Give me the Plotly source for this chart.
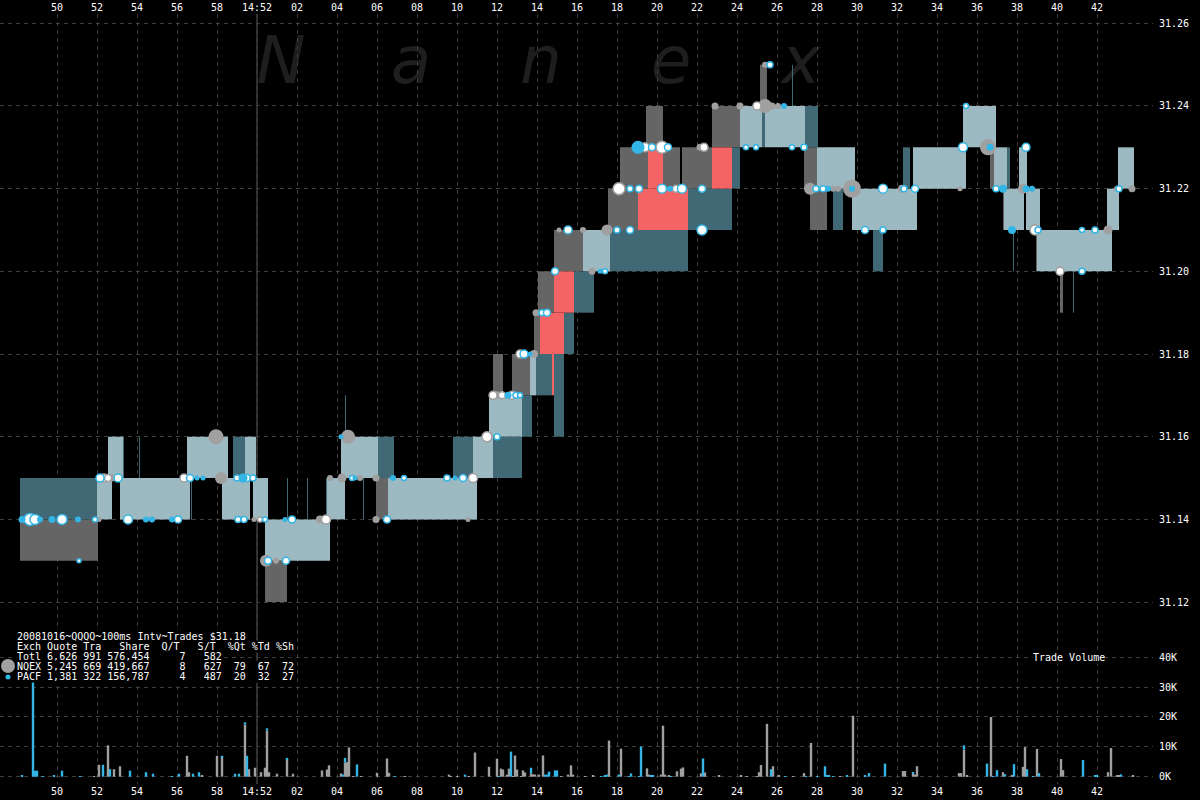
import plotly.graph_objects as go

# ---------------- axes / ticks ----------------
# time in seconds after 14:51:00
time_ticks = [50, 52, 54, 56, 58, 60, 62, 64, 66, 68, 70, 72, 74, 76, 78, 80,
              82, 84, 86, 88, 90, 92, 94, 96, 98, 100, 102]
time_labels = ['50', '52', '54', '56', '58', '14:52', '02', '04', '06', '08', '10',
               '12', '14', '16', '18', '20', '22', '24', '26', '28', '30', '32',
               '34', '36', '38', '40', '42']
price_ticks = [31.12, 31.14, 31.16, 31.18, 31.20, 31.22, 31.24, 31.26]
price_labels = ['31.12', '31.14', '31.16', '31.18', '31.20', '31.22', '31.24', '31.26']
vol_ticks = [0, 10, 20, 30, 40]
vol_labels = ['0K', '10K', '20K', '30K', '40K']

# ---------------- quote (bid/ask) segments ----------------
# kind: S = solid spread, B = blue striped, G = grey striped, R = crossed (red)
seg_t0 = [48.15, 48.15, 52.0, 52.55, 53.15, 53.3, 54.1, 56.7, 56.5, 58.25, 58.8, 59.4, 59.8,
          60.4, 60.4, 61.5, 62.5, 63.45, 63.5, 64.2, 64.4, 66.05, 65.3, 65.95, 66.55, 69.8,
          70.8, 71.8, 71.6, 73.25, 71.8, 72.75, 73.65, 73.95, 74.75, 74.85, 73.85, 74.15,
          75.35, 74.05, 74.85, 75.85, 74.85, 76.3, 77.65, 77.55, 79.05, 81.55, 78.15, 79.55,
          80.3, 81.25, 82.75, 83.75, 79.45, 82.75, 84.15, 85.25, 85.4, 87.4, 85.15, 86.75,
          87.35, 88.0, 87.65, 88.8, 89.75, 90.8, 92.3, 92.8, 95.3, 96.65, 96.85, 97.5, 98.1,
          97.3, 97.35, 98.45, 97.8, 98.95, 99.0, 100.15, 100.8, 102.5, 103.05]
seg_t1 = [52.0, 52.05, 52.75, 53.3, 56.65, 53.35, 54.15, 56.75, 58.55, 59.65, 59.4, 59.95, 60.55,
          63.65, 61.5, 61.55, 62.55, 63.5, 64.4, 66.05, 64.45, 66.85, 65.35, 66.55, 71.0, 70.8,
          71.8, 73.25, 73.25, 73.75, 72.3, 73.65, 73.95, 74.75, 74.85, 75.35, 74.15, 75.35,
          75.85, 74.85, 75.85, 76.85, 76.3, 77.65, 81.55, 79.05, 81.55, 83.75, 79.55, 80.3,
          81.15, 82.75, 83.75, 84.15, 80.3, 84.15, 85.25, 85.4, 87.4, 88.05, 85.5, 86.8,
          88.0, 89.9, 88.5, 89.3, 93.0, 91.3, 92.65, 95.45, 96.95, 96.85, 97.5, 97.65, 98.5,
          97.35, 98.35, 99.15, 97.85, 99.0, 102.75, 100.3, 100.85, 103.1, 103.85]
seg_lo = [31.14, 31.13, 31.14, 31.15, 31.14, 31.15, 31.15, 31.14, 31.15, 31.14, 31.15, 31.15, 31.14,
          31.13, 31.12, 31.14, 31.14, 31.14, 31.14, 31.15, 31.16, 31.15, 31.14, 31.14, 31.14, 31.15,
          31.15, 31.15, 31.16, 31.16, 31.17, 31.17, 31.17, 31.17, 31.17, 31.16, 31.18, 31.18,
          31.18, 31.19, 31.19, 31.19, 31.20, 31.20, 31.20, 31.21, 31.21, 31.21, 31.22, 31.22,
          31.22, 31.22, 31.22, 31.22, 31.23, 31.23, 31.23, 31.23, 31.23, 31.23, 31.24, 31.24,
          31.22, 31.22, 31.21, 31.21, 31.21, 31.20, 31.22, 31.22, 31.23, 31.22, 31.22, 31.22, 31.22,
          31.21, 31.21, 31.21, 31.20, 31.20, 31.20, 31.19, 31.19, 31.21, 31.22]
seg_hi = [31.15, 31.14, 31.15, 31.16, 31.15, 31.16, 31.16, 31.15, 31.16, 31.15, 31.16, 31.16, 31.15,
          31.14, 31.13, 31.15, 31.15, 31.15, 31.15, 31.16, 31.17, 31.16, 31.15, 31.15, 31.15, 31.16,
          31.16, 31.16, 31.17, 31.17, 31.18, 31.18, 31.18, 31.18, 31.18, 31.18, 31.19, 31.19,
          31.19, 31.20, 31.20, 31.20, 31.21, 31.21, 31.21, 31.22, 31.22, 31.22, 31.23, 31.23,
          31.23, 31.23, 31.23, 31.23, 31.24, 31.24, 31.24, 31.24, 31.24, 31.24, 31.25, 31.25,
          31.23, 31.23, 31.22, 31.22, 31.22, 31.21, 31.23, 31.23, 31.24, 31.23, 31.23, 31.23, 31.23,
          31.22, 31.22, 31.22, 31.21, 31.21, 31.21, 31.20, 31.20, 31.22, 31.23]
seg_kind = ['B', 'G', 'S', 'S', 'S', 'B', 'B', 'B', 'S', 'S', 'B', 'S', 'S',
            'S', 'G', 'B', 'B', 'B', 'S', 'S', 'B', 'B', 'B', 'G', 'S', 'B',
            'S', 'B', 'S', 'B', 'G', 'G', 'S', 'B', 'R', 'B', 'G', 'R',
            'B', 'G', 'R', 'B', 'G', 'S', 'B', 'G', 'R', 'B', 'G', 'R',
            'G', 'G', 'R', 'B', 'G', 'G', 'S', 'B', 'S', 'B', 'G', 'B',
            'G', 'S', 'G', 'B', 'S', 'B', 'B', 'S', 'S', 'G', 'S', 'B', 'S',
            'G', 'S', 'S', 'B', 'G', 'S', 'G', 'B', 'S', 'S']

# ---------------- trades (dots) ----------------
# kind: N = NQEX (grey), P = PACF (blue), W = white/blue, O = white/grey ring
dot_t = [48.25, 48.65, 48.9, 49.15, 49.75, 50.25, 51.05, 51.9, 52.1, 51.1,
         52.15, 52.35, 52.55, 52.75, 53.05, 53.55, 54.45, 54.75, 55.75, 56.05,
         56.35, 56.65, 57.0, 57.3, 57.95, 58.2, 59.0, 59.3, 59.5, 59.8,
         59.05, 59.35, 59.85, 60.15, 60.4, 60.45, 60.55, 60.95, 61.45, 61.4,
         61.75, 63.15, 63.45, 63.65, 64.2, 64.55, 64.25, 64.75, 64.9, 65.15,
         65.95, 66.8, 67.35, 69.5, 69.9, 70.3, 70.8, 65.95, 66.5, 70.55,
         71.5, 72.0, 71.8, 72.0, 72.25, 72.55, 72.75, 72.95, 73.15, 73.15,
         73.35, 73.65, 73.85, 73.95, 74.25, 74.5, 74.9, 76.75, 77.15, 77.4,
         75.1, 75.55, 76.3, 77.5, 78.0, 78.65, 78.1, 78.65, 79.1, 80.25,
         80.65, 80.95, 81.25, 82.25, 79.05, 79.4, 79.75, 80.25, 80.55, 82.15,
         82.35, 82.25, 82.9, 84.15, 85.0, 85.4, 85.75, 86.05, 86.35, 85.4,
         85.65, 84.45, 84.95, 86.75, 87.35, 87.65, 87.95, 88.3, 88.55, 88.8,
         89.05, 89.75, 89.75, 91.3, 92.25, 92.35, 92.9, 95.15, 96.95, 97.3,
         98.3, 98.45, 98.75, 103.0, 103.1, 103.75, 90.4, 91.3, 97.75, 98.9,
         99.05, 101.25, 101.9, 102.55, 95.3, 96.55, 96.65, 98.45, 95.45, 100.15,
         101.25]
dot_p = [31.14, 31.14, 31.14, 31.14, 31.14, 31.14, 31.14, 31.14, 31.14, 31.13,
         31.15, 31.15, 31.15, 31.15, 31.15, 31.14, 31.14, 31.14, 31.14, 31.14,
         31.15, 31.15, 31.15, 31.15, 31.16, 31.15, 31.15, 31.15, 31.15, 31.15,
         31.14, 31.14, 31.14, 31.14, 31.14, 31.13, 31.13, 31.13, 31.13, 31.14,
         31.14, 31.14, 31.14, 31.15, 31.16, 31.16, 31.15, 31.15, 31.15, 31.15,
         31.15, 31.15, 31.15, 31.15, 31.15, 31.15, 31.15, 31.14, 31.14, 31.14,
         31.16, 31.16, 31.17, 31.17, 31.17, 31.17, 31.17, 31.17, 31.17, 31.18,
         31.18, 31.18, 31.18, 31.19, 31.19, 31.19, 31.20, 31.20, 31.20, 31.20,
         31.21, 31.21, 31.21, 31.21, 31.21, 31.21, 31.22, 31.22, 31.22, 31.22,
         31.22, 31.22, 31.22, 31.22, 31.23, 31.23, 31.23, 31.23, 31.23, 31.23,
         31.23, 31.21, 31.24, 31.24, 31.24, 31.24, 31.24, 31.24, 31.24, 31.25,
         31.25, 31.23, 31.23, 31.23, 31.23, 31.22, 31.22, 31.22, 31.22, 31.22,
         31.22, 31.22, 31.22, 31.22, 31.22, 31.22, 31.22, 31.22, 31.22, 31.22,
         31.22, 31.22, 31.22, 31.22, 31.22, 31.22, 31.21, 31.21, 31.21, 31.21,
         31.21, 31.21, 31.21, 31.21, 31.23, 31.23, 31.23, 31.23, 31.24, 31.20,
         31.20]
dot_s = [7, 12, 10, 6, 7, 10, 6, 5, 5, 4,
         8, 8, 7, 7, 8, 9, 6, 6, 6, 7,
         8, 7, 5, 5, 15, 12, 6, 9, 7, 6,
         6, 6, 5, 5, 5, 12, 7, 6, 7, 5,
         7, 8, 9, 6, 5, 14, 9, 5, 5, 6,
         7, 6, 5, 6, 5, 7, 9, 7, 7, 5,
         10, 6, 8, 8, 7, 7, 8, 6, 5, 8,
         8, 5, 8, 7, 6, 7, 7, 7, 5, 5,
         5, 8, 6, 11, 6, 7, 12, 6, 7, 9,
         6, 7, 9, 7, 13, 9, 7, 12, 7, 7,
         8, 10, 7, 7, 8, 14, 7, 6, 6, 6,
         6, 5, 5, 5, 6, 12, 6, 6, 6, 6,
         6, 18, 6, 9, 8, 6, 7, 5, 6, 8,
         10, 7, 6, 6, 6, 7, 7, 6, 8, 10,
         6, 5, 6, 9, 9, 16, 7, 8, 5, 8,
         6]
dot_k = ['P', 'W', 'W', 'P', 'P', 'W', 'P', 'W', 'N', 'W',
         'W', 'O', 'O', 'N', 'W', 'W', 'P', 'P', 'P', 'W',
         'O', 'W', 'P', 'P', 'N', 'N', 'W', 'P', 'W', 'W',
         'W', 'W', 'N', 'O', 'W', 'N', 'W', 'N', 'W', 'P',
         'W', 'N', 'O', 'N', 'P', 'N', 'N', 'W', 'P', 'N',
         'N', 'P', 'W', 'W', 'P', 'W', 'O', 'N', 'W', 'N',
         'O', 'W', 'O', 'N', 'O', 'P', 'O', 'W', 'W', 'O',
         'W', 'P', 'N', 'N', 'W', 'W', 'W', 'N', 'P', 'W',
         'N', 'W', 'N', 'N', 'W', 'W', 'O', 'W', 'W', 'W',
         'P', 'O', 'W', 'W', 'P', 'O', 'W', 'O', 'W', 'N',
         'O', 'W', 'N', 'N', 'O', 'N', 'N', 'N', 'P', 'N',
         'W', 'W', 'W', 'W', 'W', 'N', 'W', 'W', 'P', 'N',
         'N', 'N', 'P', 'W', 'N', 'W', 'W', 'N', 'W', 'P',
         'N', 'P', 'P', 'N', 'W', 'N', 'W', 'W', 'P', 'O',
         'W', 'W', 'W', 'N', 'W', 'N', 'P', 'W', 'W', 'O',
         'W']

# ---------------- trade volume (thousands of shares) ----------------
vol_t = [48.25, 48.8, 48.9, 49.0, 49.3, 49.85, 50.25, 51.15, 51.85, 52.1, 52.3, 52.55, 52.65,
         52.85, 53.15, 53.65, 54.45, 54.8, 55.75, 56.1, 56.5, 56.6, 56.8, 57.1, 57.25, 58.0,
         58.25, 58.9, 59.1, 59.4, 59.5, 59.6, 59.9, 60.2, 60.4, 60.5, 60.6, 61.0, 61.5, 61.8,
         63.25, 63.5, 63.6, 64.2, 64.3, 64.4, 64.5, 64.6, 64.8, 65.0, 65.2, 66.0, 66.5, 66.6,
         66.9, 67.4, 69.6, 69.7, 70.0, 70.4, 70.6, 70.9, 71.6, 72.0, 72.1, 72.2, 72.3, 72.5,
         72.6, 72.7, 72.8, 72.9, 73.0, 73.2, 73.3, 73.4, 73.7, 73.8, 73.9, 74.1, 74.3, 74.4,
         74.5, 74.6, 74.9, 75.0, 75.2, 75.55, 75.7, 75.8, 76.4, 76.8, 77.2, 77.4, 77.5, 77.6,
         78.1, 78.2, 78.6, 78.7, 79.1, 79.2, 79.5, 79.6, 79.7, 79.8, 80.2, 80.3, 80.4, 80.6,
         80.7, 81.0, 81.2, 81.3, 82.2, 82.3, 82.4, 83.1, 84.2, 84.5, 85.0, 85.1, 85.2, 85.5,
         85.7, 85.8, 86.1, 86.4, 86.8, 87.35, 87.45, 87.7, 88.0, 88.4, 88.5, 88.6, 88.8,
         89.15, 89.5, 89.8, 90.4, 90.6, 91.4, 92.3, 92.4, 92.8, 92.9, 93.0, 95.1, 95.2,
         95.35, 95.5, 96.5, 96.7, 96.8, 97.0, 97.3, 97.4, 97.75, 97.85, 98.3, 98.4, 98.5,
         98.8, 99.0, 99.1, 100.2, 100.3, 101.3, 101.9, 102.0, 102.55, 102.7, 103.0, 103.1,
         103.2, 103.8]
vol_nq = [0, 0, 0, 0, 0, 0, 0, 0, 0.2, 4, 0, 10.5, 0,
          2.5, 3.5, 0, 0, 0, 0, 0, 7, 1.5, 0, 0, 0.3, 7,
          6.5, 0, 0, 17.5, 0, 2.5, 3, 1.5, 3, 15.5, 1.5, 1, 5.8, 1,
          2.1, 2.4, 3.8, 1.1, 0, 4.7, 4.9, 9.8, 0.2, 0, 0.2, 1.3, 6.1, 1.3,
          0, 0.2, 0.7, 0.2, 0.2, 0, 0.2, 8.1, 3.3, 6, 0, 2.7, 2.4, 0.7,
          2.7, 0, 0.2, 7.1, 2.4, 0.2, 2.1, 1.4, 1.1, 0.8, 0.7, 0.7, 7.1, 0,
          0, 0, 0, 0, 0.2, 0.7, 3.8, 0.7, 0.2, 0.3, 0, 0, 0, 12.1,
          0, 9.4, 0, 0, 0, 0, 2.8, 0.7, 0, 0, 0.7, 17.1, 0.7, 0.5,
          0, 1.8, 2.7, 3.1, 1.1, 0, 1.4, 0.4, 0.5, 0.2, 0.2, 1.5, 3.9, 17.7,
          0, 3.5, 0.5, 0, 0.2, 1.2, 0, 11.3, 0, 0, 0, 0, 0,
          0.2, 0, 20.4, 0, 0, 0, 1.9, 1.9, 1.0, 0.7, 3.5, 1.2, 1.2,
          9.1, 0.5, 0, 20, 0, 0, 1.5, 0, 0.6, 0, 3.3, 9.9, 0,
          0, 9.3, 0, 5.9, 2.2, 0, 0, 0, 1.5, 9.6, 0.5, 0.3,
          0, 0.5]
vol_pa = [0.5, 37.5, 2, 2, 0.2, 0.3, 2, 0.2, 0, 0, 4, 0, 2.5,
          0, 0, 2, 1.5, 1, 0.2, 1, 0, 0, 1, 1.5, 0, 0,
          0.5, 1, 1, 0.7, 7, 0, 0, 0, 0, 0.7, 0, 0, 0.5, 0,
          0, 0, 0, 0, 0.7, 1.6, 0, 0, 0, 4.1, 0, 0, 0, 0,
          0.2, 0, 0, 0, 0, 0.7, 0, 0, 0, 0, 0.2, 0, 0, 0,
          0, 8.4, 0, 0, 0, 0, 0, 0, 1.9, 0, 0, 0, 0, 0.7,
          0.7, 1.7, 2.1, 2.1, 0, 0, 0, 0, 0, 0, 0.2, 0.5, 0.7, 0,
          0.7, 0, 0.2, 1.1, 0.2, 10.1, 0, 0, 0.3, 0.3, 0, 0, 0, 0,
          0.2, 0, 0, 0, 0, 6.1, 0, 0, 0, 0, 0, 0, 0, 0,
          2.5, 0, 0, 0.2, 0, 0, 0.2, 0, 0.2, 3.5, 0.3, 0.3, 0.2,
          0, 0.5, 0, 0.4, 1.2, 4.4, 0, 0, 0.5, 0, 0, 0, 0,
          1.4, 0, 4.4, 0, 0.2, 2.2, 0, 0.8, 0, 4.2, 0, 0, 2.5,
          0.2, 0, 1.2, 0, 0, 5.6, 0.3, 0.3, 0, 0, 0, 0,
          0.8, 0]

# ---------------- legend / header text ----------------
header_lines = [
    '20081016~QQQQ~100ms Intv~Trades $31.18',
    'Exch Quote Tra   Share  Q/T   S/T  %Qt %Td %Sh',
    'Totl 6,626 991 576,454     7   582',
    'NQEX 5,245 669 419,667     8   627  79  67  72',
    'PACF 1,381 322 156,787     4   487  20  32  27',
]
watermark = ['N', 'a', 'n', 'e', 'x']

# ---------------- styling ----------------
W, H = 1200, 800
ML, MR, MT, MB = 0, 47, 14, 16
PW, PH = W - ML - MR, H - MT - MB
BLUE = '#33b5e5'
GREY = '#a0a0a0'
LIGHTBLUE = '#7fd0ea'
FONT = 'DejaVu Sans Mono'
GRID = '#3c3c3c'

quote_style = {
    'S': dict(color='#acacac', pattern=dict(shape='|', size=2, solidity=0.7,
                                              fgcolor=LIGHTBLUE, bgcolor='#acacac')),
    'B': dict(color=LIGHTBLUE, pattern=dict(shape='|', size=2, solidity=1.0,
                                             fgcolor=LIGHTBLUE, bgcolor='#000000')),
    'G': dict(color='#c8c8c8', pattern=dict(shape='|', size=2, solidity=1.0,
                                             fgcolor='#cacaca', bgcolor='#000000')),
    'R': dict(color='#f56464'),
}
dot_style = {
    'N': dict(color=GREY, line=dict(width=0)),
    'P': dict(color=BLUE, line=dict(width=0)),
    'W': dict(color='#ffffff', line=dict(width=1.5, color=BLUE)),
    'O': dict(color='#ffffff', line=dict(width=1.5, color=GREY)),
}


def px_x(px):
    return (px - ML) / PW


def px_y(py):
    return (H - MB - py) / PH


fig = go.Figure()

# quote spread bars
for kind in ['S', 'G', 'B', 'R']:
    idx = [i for i, k in enumerate(seg_kind) if k == kind]
    st = quote_style[kind]
    mk = dict(color=st['color'], line=dict(width=0))
    if 'pattern' in st:
        mk['pattern'] = st['pattern']
    fig.add_trace(go.Bar(
        x=[(seg_t0[i] + seg_t1[i]) / 2 for i in idx],
        y=[seg_hi[i] - seg_lo[i] for i in idx],
        base=[seg_lo[i] for i in idx],
        width=[seg_t1[i] - seg_t0[i] for i in idx],
        marker=mk, xaxis='x', yaxis='y', hoverinfo='skip', showlegend=False))

# trade volume (NQEX grey with PACF blue stacked on top)
fig.add_trace(go.Bar(x=vol_t, y=vol_nq, base=[0] * len(vol_t), width=0.12,
                     marker=dict(color=GREY, line=dict(width=0)),
                     xaxis='x', yaxis='y2', hoverinfo='skip', showlegend=False))
fig.add_trace(go.Bar(x=vol_t, y=vol_pa, base=vol_nq, width=0.12,
                     marker=dict(color=BLUE, line=dict(width=0)),
                     xaxis='x', yaxis='y2', hoverinfo='skip', showlegend=False))

# trade dots
for kind in ['N', 'O', 'W', 'P']:
    idx = [i for i, k in enumerate(dot_k) if k == kind]
    st = dot_style[kind]
    fig.add_trace(go.Scatter(
        x=[dot_t[i] for i in idx], y=[dot_p[i] for i in idx], mode='markers',
        marker=dict(size=[dot_s[i] for i in idx], color=st['color'], line=st['line'],
                    opacity=1),
        xaxis='x2', yaxis='y', hoverinfo='skip', showlegend=False))

x_range = [47.15, 47.15 + PW / 20.0]
axis_font = dict(family=FONT, size=10, color='#ffffff')

fig.update_layout(
    width=W, height=H,
    margin=dict(l=ML, r=MR, t=MT, b=MB, pad=0),
    paper_bgcolor='#000000', plot_bgcolor='#000000',
    barmode='overlay', showlegend=False,
    xaxis=dict(range=x_range, tickvals=time_ticks, ticktext=time_labels,
               showgrid=True, gridcolor=GRID, griddash='4px,4px', gridwidth=1,
               zeroline=False, showline=False, ticks='', tickfont=axis_font),
    xaxis2=dict(range=x_range, overlaying='x', matches='x', side='top', anchor='y',
                tickvals=time_ticks, ticktext=time_labels, showgrid=False,
                zeroline=False, showline=False, ticks='', tickfont=axis_font),
    yaxis=dict(range=[31.07599, 31.26225], side='right', anchor='x',
               tickvals=price_ticks, ticktext=price_labels,
               showgrid=True, gridcolor=GRID, griddash='4px,4px', gridwidth=1,
               zeroline=False, showline=False, ticks='outside', ticklen=3,
               tickcolor='#000000', tickfont=axis_font),
    yaxis2=dict(range=[-2.45, 255.5], side='right', overlaying='y', anchor='x',
                tickvals=vol_ticks, ticktext=vol_labels,
                showgrid=True, gridcolor=GRID, griddash='4px,4px', gridwidth=1,
                zeroline=False, showline=False, ticks='outside', ticklen=3,
                tickcolor='#000000', tickfont=axis_font),
)

shapes = []
# 14:52 time marker
shapes.append(dict(type='line', xref='x', yref='paper', x0=60, x1=60, y0=0, y1=1,
                   line=dict(color='#5a5a5a', width=1), layer='below'))
# watermark letters (drawn beneath the data)
for i, ch in enumerate(watermark):
    cx = 281 + 130 * i
    shapes.append(dict(type='rect', xref='paper', yref='paper',
                       x0=px_x(cx - 40), x1=px_x(cx + 40), y0=px_y(90), y1=px_y(20),
                       line=dict(width=0), fillcolor='rgba(0,0,0,0)', layer='below',
                       label=dict(text=ch, textposition='middle center',
                                  font=dict(family='DejaVu Sans', size=66,
                                            color='#1e1e1e', style='italic'))))
fig.update_layout(shapes=shapes)

annotations = []
for i, line in enumerate(header_lines):
    annotations.append(dict(xref='paper', yref='paper', x=px_x(16), y=px_y(636 + 10 * i),
                            xanchor='left', yanchor='middle', text=line, showarrow=False,
                            font=dict(family=FONT, size=10, color='#ffffff'),
                            bgcolor='#000000', borderpad=0))
annotations.append(dict(xref='paper', yref='paper', x=px_x(1032), y=px_y(657),
                        xanchor='left', yanchor='middle', text='Trade Volume',
                        showarrow=False, font=dict(family=FONT, size=10, color='#ffffff'),
                        bgcolor='#000000', borderpad=0))
fig.update_layout(annotations=annotations)

# legend markers next to exchange rows
fig.add_shape(type='circle', xref='paper', yref='paper',
              x0=px_x(1), x1=px_x(15), y0=px_y(673), y1=px_y(659),
              fillcolor=GREY, line=dict(width=0), layer='above')
fig.add_shape(type='circle', xref='paper', yref='paper',
              x0=px_x(5.5), x1=px_x(10.5), y0=px_y(679.5), y1=px_y(674.5),
              fillcolor=BLUE, line=dict(width=0), layer='above')

fig.write_html('out.html', config={'displayModeBar': False},
               post_script="document.body.style.margin='0';")
